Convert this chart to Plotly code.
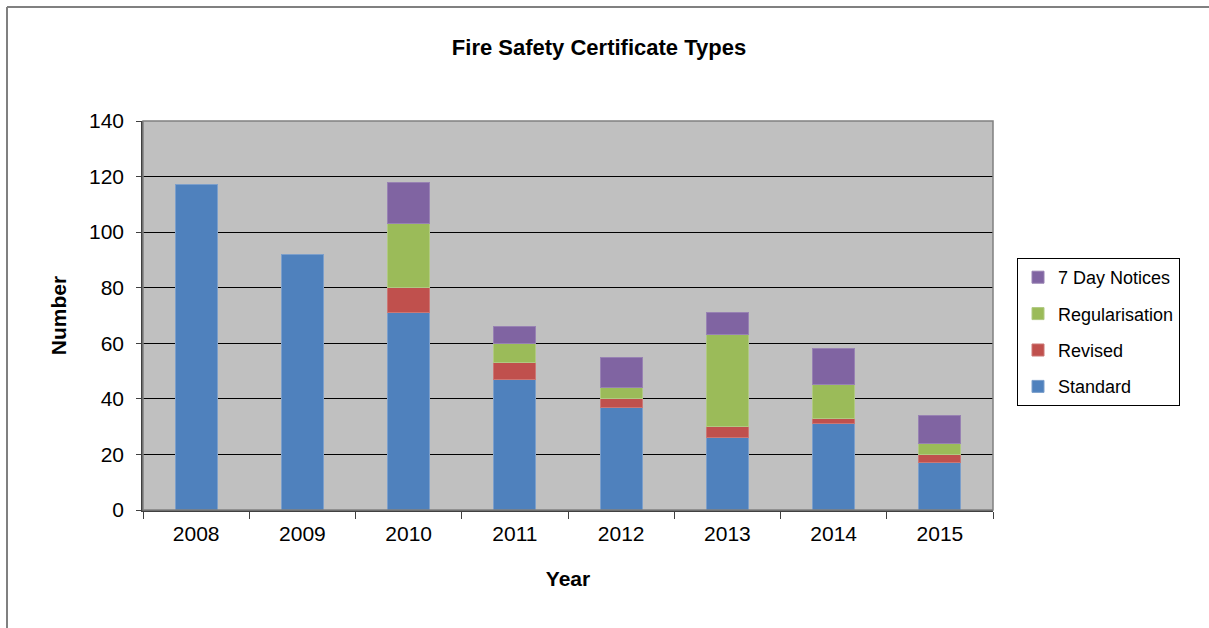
import plotly.graph_objects as go

years = ["2008", "2009", "2010", "2011", "2012", "2013", "2014", "2015"]
standard = [117, 92, 71, 47, 37, 26, 31, 17]
revised = [0, 0, 9, 6, 3, 4, 2, 3]
regularisation = [0, 0, 23, 7, 4, 33, 12, 4]
seven_day = [0, 0, 15, 6, 11, 8, 13, 10]

series_names = ["Standard", "Revised", "Regularisation", "7 Day Notices"]
series_values = [standard, revised, regularisation, seven_day]
colors = ["#4F81BD", "#C0504D", "#9BBB59", "#8064A2"]
outlines = ["#7C9FCB", "#CB7775", "#B0C982", "#9882B3"]

FONT = "Liberation Sans, Arial, sans-serif"

fig = go.Figure()
n = len(series_names)
for i, (name, vals, c, oc) in enumerate(zip(series_names, series_values, colors, outlines)):
    fig.add_trace(go.Bar(
        x=years, y=[v if v else None for v in vals], name=name, legendgroup=name,
        legendrank=n - i,
        marker=dict(color=c, line=dict(color=oc, width=1)),
    ))

fig.update_layout(
    barmode="stack",
    bargap=0.605,
    width=1209, height=628,
    margin=dict(l=143, r=216, t=121, b=118),
    paper_bgcolor="white",
    plot_bgcolor="#C0C0C0",
    font=dict(family=FONT, color="black", size=21),
    title=dict(text="<b>Fire Safety Certificate Types</b>", x=599/1209, xref="container",
               xanchor="center", y=1 - 47/628, yref="container", yanchor="middle",
               font=dict(size=22, family=FONT, color="black")),
    legend=dict(
        x=(1017 - 143) / 850, y=(510 - 258) / 389, xanchor="left", yanchor="top",
        traceorder="grouped", tracegroupgap=10,
        bgcolor="white", bordercolor="#000000", borderwidth=1,
        font=dict(size=18, family=FONT, color="black"),
        itemwidth=30,
    ),
    showlegend=True,
)

fig.update_xaxes(
    type="category",
    showline=True, linecolor="#404040", linewidth=1.5,
    ticks="outside", tickson="boundaries", ticklen=7, tickcolor="#404040", tickwidth=1,
    tickfont=dict(size=21, family=FONT),
    ticklabelstandoff=4,
    title=dict(text="<b>Year</b>", font=dict(size=21, family=FONT), standoff=27),
    showgrid=False,
)
fig.update_yaxes(
    range=[0, 140], dtick=20,
    showline=True, linecolor="#404040", linewidth=1.5,
    ticks="outside", ticklen=5, tickcolor="#404040",
    tickfont=dict(size=21, family=FONT),
    ticklabelstandoff=8,
    showgrid=True, gridcolor="#000000", gridwidth=1,
    zeroline=False,
    title=dict(text="<b>Number</b>", font=dict(size=21, family=FONT), standoff=17),
)

# plot area frame (top/right) and outer chart border
fig.add_shape(type="rect", xref="paper", yref="paper", x0=0, x1=1, y0=0, y1=1,
              line=dict(color="#808080", width=1.5), layer="above")
fig.add_shape(type="line", xref="paper", yref="paper",
              x0=(7 - 143) / 850, x1=(1209 - 143) / 850,
              y0=(510 - 7) / 389, y1=(510 - 7) / 389,
              line=dict(color="#808080", width=2))
fig.add_shape(type="line", xref="paper", yref="paper",
              x0=(7 - 143) / 850, x1=(7 - 143) / 850,
              y0=(510 - 7) / 389, y1=(510 - 640) / 389,
              line=dict(color="#808080", width=2))

fig.write_html("out.html", config={"displayModeBar": False},
               post_script="document.body.style.margin='0px';document.body.style.overflow='hidden';")
